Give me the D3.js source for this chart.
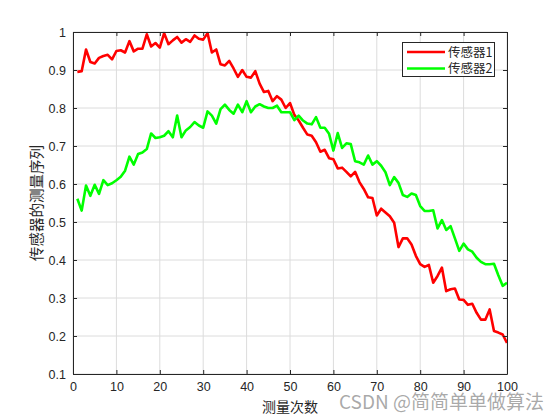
<!DOCTYPE html>
<html><head><meta charset="utf-8">
<script src="https://cdn.jsdelivr.net/npm/d3@7"></script>
<style>body{margin:0;background:#fff}svg{display:block}</style>
</head><body>
<script>
const sensor1 = [0.895,0.897,0.954,0.921,0.917,0.932,0.937,0.94,0.928,0.95,
0.952,0.946,0.976,0.949,0.956,0.956,0.994,0.962,0.971,0.959,
0.997,0.968,0.978,0.987,0.972,0.981,0.974,0.991,0.982,0.98,
0.997,0.946,0.954,0.915,0.912,0.924,0.904,0.882,0.9,0.882,
0.88,0.897,0.864,0.842,0.845,0.818,0.831,0.822,0.8,0.813,
0.782,0.767,0.748,0.73,0.727,0.71,0.685,0.69,0.668,0.665,
0.641,0.643,0.632,0.62,0.632,0.605,0.587,0.565,0.563,0.517,
0.535,0.525,0.515,0.498,0.434,0.457,0.457,0.441,0.411,0.389,
0.382,0.387,0.34,0.358,0.38,0.318,0.323,0.325,0.296,0.295,
0.282,0.285,0.261,0.243,0.243,0.27,0.213,0.209,0.204,0.182];
const sensor2 = [0.561,0.53,0.596,0.569,0.598,0.574,0.61,0.597,0.602,0.61,
0.619,0.635,0.672,0.651,0.679,0.683,0.692,0.733,0.721,0.723,
0.727,0.739,0.723,0.78,0.723,0.741,0.75,0.763,0.754,0.748,
0.791,0.78,0.759,0.797,0.809,0.795,0.785,0.809,0.789,0.818,
0.789,0.804,0.81,0.804,0.8,0.8,0.806,0.789,0.789,0.789,
0.768,0.78,0.767,0.759,0.757,0.776,0.748,0.748,0.732,0.688,
0.734,0.695,0.707,0.705,0.66,0.657,0.651,0.675,0.651,0.66,
0.648,0.631,0.597,0.618,0.603,0.571,0.566,0.575,0.571,0.542,
0.529,0.529,0.531,0.483,0.505,0.479,0.489,0.457,0.424,0.443,
0.428,0.422,0.406,0.395,0.389,0.389,0.39,0.36,0.332,0.34];
const seriesNames = ["传感器1","传感器2"];
const seriesColors = ["#ff0000","#00ff00"];
const xTicks = [0,10,20,30,40,50,60,70,80,90,100];
const yTicks = [0.1,0.2,0.3,0.4,0.5,0.6,0.7,0.8,0.9,1];
const xLabel = "测量次数";
const yLabel = "传感器的测量序列";
const watermark = "CSDN @简简单单做算法";

const W=560,H=420, L=73,R=507,T=32,B=374;
const svg=d3.select("body").append("svg").attr("width",W).attr("height",H);
const x=d3.scaleLinear().domain([0,100]).range([L,R]);
const y=d3.scaleLinear().domain([0.1,1]).range([B,T]);
const axc="#262626", font="'Liberation Sans',Arial,sans-serif", cjk="'Noto Sans CJK SC',sans-serif";

// grid
const g=svg.append("g");
g.selectAll(".gx").data(xTicks).join("line").attr("x1",d=>x(d)).attr("x2",d=>x(d)).attr("y1",T).attr("y2",B).attr("stroke","#dcdcdc").attr("stroke-width",1);
g.selectAll(".gy").data(yTicks).join("line").attr("y1",d=>y(d)).attr("y2",d=>y(d)).attr("x1",L).attr("x2",R).attr("stroke","#dcdcdc").attr("stroke-width",1);

// lines
const series=[sensor1,sensor2];
const line=d3.line().x((d,i)=>x(i+1)).y(d=>y(d));
series.forEach((s,k)=>{
  svg.append("path").datum(s).attr("d",line).attr("fill","none").attr("stroke",seriesColors[k]).attr("stroke-width",2.6).attr("stroke-linejoin","round");
});

// axes
const fmt=d=>String(d);
const ax=[
  {a:d3.axisBottom(x).tickValues(xTicks).tickFormat(fmt).tickSizeInner(-4).tickSizeOuter(0).tickPadding(8),t:`translate(0,${B})`},
  {a:d3.axisTop(x).tickValues(xTicks).tickFormat("").tickSizeInner(-4).tickSizeOuter(0),t:`translate(0,${T})`},
  {a:d3.axisLeft(y).tickValues(yTicks).tickFormat(fmt).tickSizeInner(-4).tickSizeOuter(0).tickPadding(7),t:`translate(${L},0)`},
  {a:d3.axisRight(y).tickValues(yTicks).tickFormat("").tickSizeInner(-4).tickSizeOuter(0),t:`translate(${R},0)`}
];
ax.forEach(o=>{
  const gg=svg.append("g").attr("transform",o.t).call(o.a);
  gg.select(".domain").attr("stroke",axc).attr("stroke-width",1);
  gg.selectAll(".tick line").attr("stroke",axc);
  gg.selectAll("text").attr("fill",axc).style("font-family",font).style("font-size","12.5px");
});

// axis titles
svg.append("text").attr("x",(L+R)/2).attr("y",412).attr("text-anchor","middle").attr("fill",axc).style("font-family",cjk).style("font-size","14px").text(xLabel);
svg.append("text").attr("transform",`translate(42,${(T+B)/2}) rotate(-90)`).attr("text-anchor","middle").attr("fill",axc).style("font-family",cjk).style("font-size","14.5px").text(yLabel);

// legend
const lg=svg.append("g");
lg.append("rect").attr("x",402.5).attr("y",42.5).attr("width",92).attr("height",34).attr("fill","#fff").attr("stroke",axc).attr("stroke-width",1);
seriesNames.forEach((n,k)=>{
  const yy=52+k*16.5;
  lg.append("line").attr("x1",407).attr("x2",445).attr("y1",yy).attr("y2",yy).attr("stroke",seriesColors[k]).attr("stroke-width",2.6);
  lg.append("text").attr("x",448).attr("y",yy+4.5).attr("fill",axc).style("font-family",cjk).style("font-size","12.5px").text(n);
});

// watermark
svg.append("text").attr("x",544).attr("y",409).attr("text-anchor","end").attr("fill","#9a9a9a").attr("fill-opacity",0.85).style("font-family",cjk).style("font-size","19px").text(watermark);
</script>
</body></html>
